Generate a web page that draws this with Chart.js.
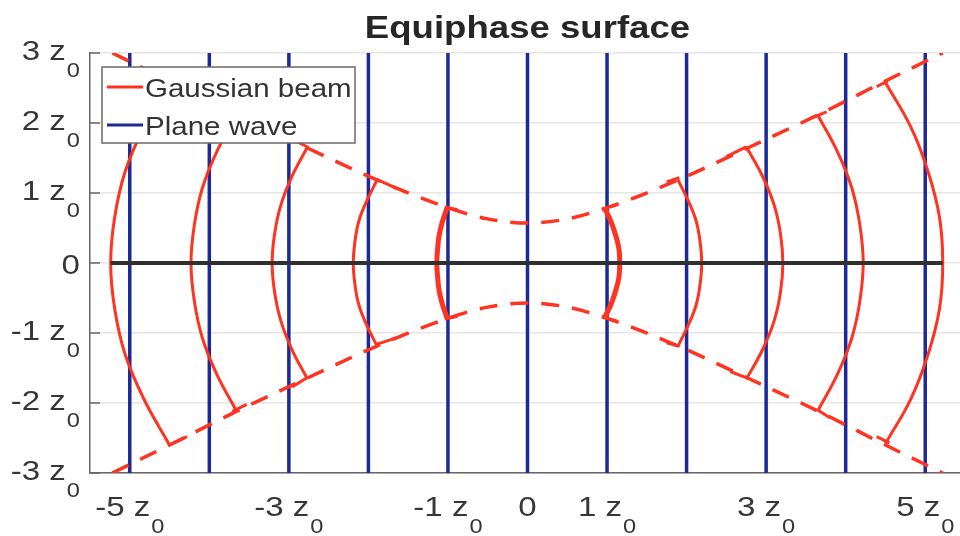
<!DOCTYPE html>
<html lang="en">
<head>
<meta charset="UTF-8">
<title>Equiphase surface</title>
<script src="https://cdn.jsdelivr.net/npm/chart.js"></script>
<style>
    html, body {
        margin: 0;
        padding: 0;
        background: #ffffff;
        overflow: hidden;
    }
    .chart-box {
        position: relative;
        width: 975px;
        height: 536px;
    }
</style>
</head>
<body>

<div class="chart-box">
    <canvas id="grafico"></canvas>
</div>

<script>
// tick values (in units of z0)
const xTicks = [-5, -3, -1, 0, 1, 3, 5];
const yTicks = [-3, -2, -1, 0, 1, 2, 3];

// plane wave fronts
const planeWaveZ = [-5, -4, -3, -2, -1, 0, 1, 2, 3, 4, 5];

// beam envelope (dashed)
const envelopeZ   = [-5.22, -4.5, -3.66, -2.78, -1.9, -1.0, -0.5, 0, 0.5, 1.0, 1.9, 2.78, 3.66, 4.5, 5.22];
const envelopeTop = [3.0, 2.60, 2.12, 1.65, 1.19, 0.79, 0.63, 0.57, 0.63, 0.79, 1.19, 1.65, 2.12, 2.60, 3.0];
const envelopeBot = [-3.0, -2.60, -2.12, -1.65, -1.19, -0.79, -0.63, -0.57, -0.63, -0.79, -1.19, -1.65, -2.12, -2.60, -3.0];

// Gaussian beam equiphase surfaces, one row per front
const arcZ = [
    [-4.50, -4.82, -5.06, -5.19, -5.24, -5.19, -5.06, -4.82, -4.50],
    [-3.66, -3.91, -4.09, -4.19, -4.23, -4.19, -4.09, -3.91, -3.66],
    [-2.77, -2.96, -3.10, -3.18, -3.21, -3.18, -3.10, -2.96, -2.77],
    [-1.89, -2.02, -2.12, -2.17, -2.19, -2.17, -2.12, -2.02, -1.89],
    [-1.01, -1.07, -1.11, -1.13, -1.14, -1.13, -1.11, -1.07, -1.01],
    [0.97, 1.05, 1.11, 1.15, 1.16, 1.15, 1.11, 1.05, 0.97],
    [1.89, 2.02, 2.12, 2.17, 2.19, 2.17, 2.12, 2.02, 1.89],
    [2.75, 2.95, 3.10, 3.18, 3.21, 3.18, 3.10, 2.95, 2.75],
    [3.65, 3.90, 4.08, 4.18, 4.22, 4.18, 4.08, 3.90, 3.65],
    [4.50, 4.82, 5.04, 5.18, 5.22, 5.18, 5.04, 4.82, 4.50]
];
const arcR = [
    [2.60, 1.95, 1.30, 0.65, 0, -0.65, -1.30, -1.95, -2.60],
    [2.11, 1.58, 1.06, 0.53, 0, -0.53, -1.06, -1.58, -2.11],
    [1.65, 1.24, 0.83, 0.41, 0, -0.41, -0.83, -1.24, -1.65],
    [1.19, 0.89, 0.60, 0.30, 0, -0.30, -0.60, -0.89, -1.19],
    [0.79, 0.59, 0.40, 0.20, 0, -0.20, -0.40, -0.59, -0.79],
    [0.78, 0.59, 0.39, 0.20, 0, -0.20, -0.39, -0.59, -0.78],
    [1.19, 0.89, 0.60, 0.30, 0, -0.30, -0.60, -0.89, -1.19],
    [1.66, 1.25, 0.83, 0.42, 0, -0.42, -0.83, -1.25, -1.66],
    [2.11, 1.58, 1.06, 0.53, 0, -0.53, -1.06, -1.58, -2.11],
    [2.58, 1.94, 1.29, 0.65, 0, -0.65, -1.29, -1.94, -2.58]
];
const arcWidth = [3, 3, 3, 3, 5, 5, 3, 3, 3, 3];

// short solid caps where the fronts meet the envelope: [z1, r1, z2, r2]
const caps = [
    [-4.50, 2.60, -4.28, 2.48], [-4.50, -2.60, -4.28, -2.48],
    [-3.71, 2.12, -3.53, 2.02], [-3.71, -2.12, -3.53, -2.02],
    [-2.93, 1.75, -2.75, 1.65], [-2.96, -1.77, -2.77, -1.64],
    [-1.89, 1.19, -1.65, 1.07], [-1.89, -1.16, -1.65, -1.07],
    [-1.04, 0.80, -0.88, 0.76], [-1.04, -0.80, -0.88, -0.76],
    [0.94, 0.77, 1.13, 0.83], [0.94, -0.77, 1.13, -0.83],
    [1.75, 1.16, 1.91, 1.22], [1.75, -1.14, 1.91, -1.19],
    [2.50, 1.52, 2.75, 1.66], [2.55, -1.55, 2.73, -1.63],
    [3.61, 2.09, 3.76, 2.16], [3.65, -2.10, 3.80, -2.21],
    [4.39, 2.52, 4.53, 2.60], [4.39, -2.48, 4.55, -2.57]
];

// optical axis
const axisZ = [-5.24, 5.22];
const axisR = [0, 0];

const RED = '#ff3320';
const BLUE = '#1b2a98';
const FONT = "'Liberation Sans', Arial, sans-serif";
const SX = 1.18; // the text in the picture is a bit wide

const pts = (xs, ys) => xs.map((v, i) => ({ x: v, y: ys[i] }));

let datasets = [];

datasets.push({
    label: 'axis',
    data: pts(axisZ, axisR),
    borderColor: '#303030',
    borderWidth: 4,
    pointRadius: 0,
    showLine: true
});

arcZ.forEach((row, i) => {
    datasets.push({
        label: i === 0 ? 'Gaussian beam' : '',
        data: pts(row, arcR[i]),
        borderColor: RED,
        borderWidth: arcWidth[i],
        pointRadius: 0,
        showLine: true,
        tension: 0.4
    });
});

let capData = [];
caps.forEach(c => {
    capData.push({ x: c[0], y: c[1] }, { x: c[2], y: c[3] }, { x: null, y: null });
});
datasets.push({
    label: '',
    data: capData,
    borderColor: RED,
    borderWidth: 3,
    pointRadius: 0,
    showLine: true,
    spanGaps: false
});

[envelopeTop, envelopeBot].forEach(w => {
    datasets.push({
        label: '',
        data: pts(envelopeZ, w),
        borderColor: RED,
        borderWidth: 3.5,
        borderDash: [18, 13],
        pointRadius: 0,
        showLine: true,
        cubicInterpolationMode: 'monotone'
    });
});

let planeData = [];
planeWaveZ.forEach(z => {
    planeData.push({ x: z, y: -3 }, { x: z, y: 3 }, { x: null, y: null });
});
datasets.push({
    label: 'Plane wave',
    data: planeData,
    borderColor: BLUE,
    borderWidth: 3.5,
    pointRadius: 0,
    showLine: true,
    spanGaps: false
});

function wideText(ctx, txt, x, y, font, color) {
    ctx.save();
    ctx.translate(x, y);
    ctx.scale(SX, 1);
    ctx.font = font;
    ctx.fillStyle = color;
    ctx.textAlign = 'left';
    ctx.textBaseline = 'alphabetic';
    ctx.fillText(txt, 0, 0);
    ctx.restore();
}

function textWidth(ctx, txt, font) {
    ctx.save();
    ctx.font = font;
    const w = ctx.measureText(txt).width * SX;
    ctx.restore();
    return w;
}

const mainFont = '28px ' + FONT;
const subFont = '20px ' + FONT;
const labelColor = '#363636';

// draws "n z" with a subscript 0, left edge at x
function tickLabel(ctx, v, x, base, subBase) {
    if (v === 0) {
        wideText(ctx, '0', x, base, mainFont, labelColor);
        return;
    }
    const main = v + ' z';
    wideText(ctx, main, x, base, mainFont, labelColor);
    wideText(ctx, '0', x + textWidth(ctx, main, mainFont) + 1, subBase, subFont, labelColor);
}

function labelWidth(ctx, v) {
    if (v === 0) return textWidth(ctx, '0', mainFont);
    return textWidth(ctx, v + ' z', mainFont) + 1 + textWidth(ctx, '0', subFont);
}

const extras = {
    id: 'extras',
    afterDraw(chart) {
        const { ctx, chartArea, scales } = chart;
        const xs = scales.x, ys = scales.y;

        // inward ticks on the left axis
        ctx.save();
        ctx.strokeStyle = '#666666';
        ctx.lineWidth = 1.5;
        yTicks.forEach(v => {
            const py = ys.getPixelForValue(v);
            ctx.beginPath();
            ctx.moveTo(chartArea.left, py);
            ctx.lineTo(chartArea.left + 10, py);
            ctx.stroke();
        });
        ctx.restore();

        // y tick labels, right aligned
        yTicks.forEach(v => {
            const py = ys.getPixelForValue(v);
            const w = labelWidth(ctx, v);
            const x0 = chartArea.left - 10 - w;
            if (v === 0) tickLabel(ctx, v, x0, py + 11, 0);
            else tickLabel(ctx, v, x0, py + 7, py + 24);
        });

        // x tick labels, centred
        xTicks.forEach(v => {
            const px = xs.getPixelForValue(v);
            const w = labelWidth(ctx, v);
            tickLabel(ctx, v, px - w / 2, chartArea.bottom + 43, chartArea.bottom + 60);
        });

        // title
        const title = 'Equiphase surface';
        const tFont = 'bold 31px ' + FONT;
        const tw = textWidth(ctx, title, tFont);
        wideText(ctx, title, (chartArea.left + chartArea.right) / 2 - tw / 2, 38, tFont, '#262626');

        // legend box
        const lx = 102, ly = 67, lw = 253, lh = 76;
        ctx.save();
        ctx.fillStyle = '#ffffff';
        ctx.fillRect(lx, ly, lw, lh);
        ctx.strokeStyle = '#6a6a6a';
        ctx.lineWidth = 1.5;
        ctx.strokeRect(lx, ly, lw, lh);
        const rows = [
            { text: 'Gaussian beam', color: RED, y: 87 },
            { text: 'Plane wave', color: BLUE, y: 125 }
        ];
        rows.forEach(r => {
            ctx.strokeStyle = r.color;
            ctx.lineWidth = 3;
            ctx.beginPath();
            ctx.moveTo(lx + 5, r.y);
            ctx.lineTo(lx + 41, r.y);
            ctx.stroke();
        });
        ctx.restore();
        rows.forEach(r => {
            wideText(ctx, r.text, lx + 43, r.y + 10, '25px ' + FONT, '#333333');
        });
    }
};

const grafico = new Chart(document.getElementById('grafico'), {
    type: 'scatter',
    data: { datasets: datasets },
    options: {
        responsive: true,
        maintainAspectRatio: false,
        animation: false,
        layout: { padding: { top: 53, right: 10, left: 0, bottom: 0 } },
        plugins: {
            legend: { display: false },
            title: { display: false },
            tooltip: { enabled: false }
        },
        scales: {
            x: {
                type: 'linear',
                min: -5.5,
                max: 5.5,
                grid: { display: false, drawTicks: false },
                border: { display: true, color: '#666666', width: 1.5 },
                ticks: { display: false, stepSize: 1 },
                afterFit: s => { s.height = 63; }
            },
            y: {
                type: 'linear',
                min: -3,
                max: 3,
                grid: { color: '#e6e6e6', lineWidth: 1.5, drawTicks: false },
                border: { display: true, color: '#666666', width: 1.5 },
                ticks: { display: false, stepSize: 1 },
                afterFit: s => { s.width = 90; }
            }
        }
    },
    plugins: [extras]
});
</script>
</body>
</html>
